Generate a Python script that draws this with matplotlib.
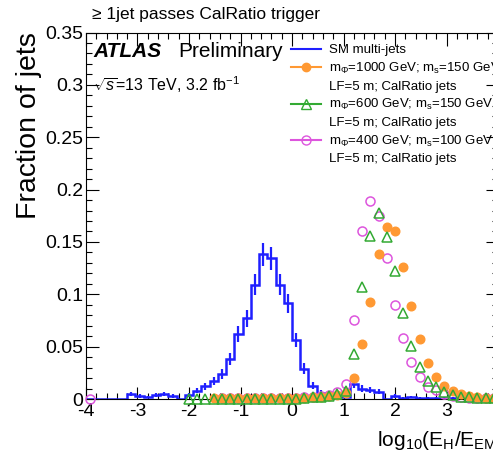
import numpy as np
import matplotlib
matplotlib.use("Agg")
import matplotlib.pyplot as plt
from matplotlib.ticker import MultipleLocator, FuncFormatter
from matplotlib.lines import Line2D

plt.rcParams['font.family'] = ['Liberation Sans', 'DejaVu Sans']
plt.rcParams['mathtext.fontset'] = 'custom'
plt.rcParams['mathtext.rm'] = 'Liberation Sans'
plt.rcParams['mathtext.it'] = 'Liberation Sans:italic'
plt.rcParams['mathtext.bf'] = 'Liberation Sans:bold'

# ---- data: 50 bins from -4 to 4 (width 0.16) ----
bin_lo = -4.0
bin_hi = 4.0
n_bins = 50

sm_multijets = [0, 0, 0, 0, 0, 0.005, 0.003, 0.002, 0.004, 0.005,
                0.003, 0.0, 0.004, 0.008, 0.012, 0.017, 0.024, 0.038, 0.062, 0.077,
                0.109, 0.138, 0.1345, 0.109, 0.0915, 0.0564, 0.029, 0.0127, 0.006, 0.001,
                0.002, 0.002, 0.014, 0.010, 0.009, 0.007, 0.0, 0.003, 0.001, 0.002,
                0.001, 0.001, 0.001, 0.001, 0.001, 0, 0, 0, 0, 0]
sm_errors = [0, 0, 0, 0, 0, 0.0021, 0.0016, 0.0013, 0.0019, 0.0021,
             0.0016, 0.0, 0.0019, 0.0027, 0.0033, 0.0039, 0.0046, 0.0058, 0.0075, 0.0083,
             0.0099, 0.0111, 0.0110, 0.0099, 0.0091, 0.0071, 0.0051, 0.0034, 0.0023, 0.0010,
             0.0013, 0.0013, 0.0035, 0.0030, 0.0028, 0.0025, 0.0, 0.0016, 0.0010, 0.0013,
             0.0010, 0.0010, 0.0010, 0.0010, 0.0010, 0, 0, 0, 0, 0]

nan = np.nan
sig_1000 = [nan] * 15 + [0.0005] * 11 + [0.001, 0.0015, 0.002, 0.003, 0.004, 0.006,
            0.0205, 0.0526, 0.0925, 0.1384, 0.164, 0.160, 0.1256, 0.089, 0.057, 0.034,
            0.0213, 0.0124, 0.008, 0.0048, 0.003, 0.002, 0.001, 0.0005]
sig_600 = [nan] * 12 + [0.0003] * 14 + [0.001, 0.0015, 0.002, 0.003, 0.005, 0.008,
           0.0427, 0.107, 0.156, 0.178, 0.155, 0.1224, 0.082, 0.051, 0.031, 0.017,
           0.0118, 0.007, 0.004, 0.002, 0.0015, 0.001, 0.0005, 0.0005]
sig_400 = [0.0] + [nan] * 15 + [0.0005] * 10 + [0.0015, 0.002, 0.003, 0.004, 0.007, 0.014,
           0.0755, 0.160, 0.1887, 0.1743, 0.1345, 0.090, 0.058, 0.0357, 0.0207, 0.0118,
           0.0086, 0.0048, 0.003, 0.002, 0.001, 0.001, 0.0005, 0.0005]

labels = ["SM multi-jets",
          r"m$_{\Phi}$=1000 GeV; m$_{\mathrm{s}}$=150 GeV",
          r"m$_{\Phi}$=600 GeV; m$_{\mathrm{s}}$=150 GeV;",
          r"m$_{\Phi}$=400 GeV; m$_{\mathrm{s}}$=100 GeV;"]
cont_label = "LF=5 m; CalRatio jets"

c_blue = '#1f1fff'
c_orange = '#ff9933'
c_green = '#33aa33'
c_magenta = '#dd55dd'

edges = np.linspace(bin_lo, bin_hi, n_bins + 1)
centers = 0.5 * (edges[:-1] + edges[1:])

fig = plt.figure(figsize=(4.93, 4.59), dpi=100)
ax = fig.add_axes([86 / 493, 1 - 399 / 459, 412 / 493, 366.5 / 459])

sm = np.array(sm_multijets)
err = np.array(sm_errors)
ax.stairs(sm, edges, color=c_blue, lw=1.8, baseline=None, zorder=2)
m = sm > 0
ax.errorbar(centers[m], sm[m], yerr=err[m], fmt='none', ecolor=c_blue,
            elinewidth=1.6, capsize=0, zorder=2)

ax.plot(centers, sig_400, ls='none', marker='o', ms=6.5, mfc='none',
        mec=c_magenta, mew=1.1, clip_on=False, zorder=3)
ax.plot(centers, sig_1000, ls='none', marker='o', ms=6.2, mfc=c_orange,
        mec=c_orange, clip_on=False, zorder=4)
ax.plot(centers, sig_600, ls='none', marker='^', ms=6.5, mfc='none',
        mec=c_green, mew=1.1, clip_on=False, zorder=5)

ax.set_xlim(bin_lo, bin_hi)
ax.set_ylim(0, 0.35)
ax.xaxis.set_major_locator(MultipleLocator(1))
ax.xaxis.set_minor_locator(MultipleLocator(0.2))
ax.yaxis.set_major_locator(MultipleLocator(0.05))
ax.yaxis.set_minor_locator(MultipleLocator(0.01))
ax.yaxis.set_major_formatter(FuncFormatter(lambda v, p: '%g' % round(v, 3)))
ax.xaxis.set_major_formatter(FuncFormatter(lambda v, p: '' if v > 3.5 else '%g' % v))
ax.tick_params(which='both', direction='in', top=True, right=True, labelsize=14)
ax.tick_params(which='major', length=9, width=0.8)
ax.tick_params(which='minor', length=4.5, width=0.8)
ax.tick_params(axis='x', pad=3)
ax.tick_params(axis='y', pad=2)
for s in ax.spines.values():
    s.set_linewidth(0.8)

ax.set_ylabel("Fraction of jets", fontsize=20.5, loc='top', labelpad=2)
ax.set_xlabel(r"log$_{10}$(E$_{\mathrm{H}}$/E$_{\mathrm{EM}}$)", fontsize=15,
              loc='right')
ax.xaxis.set_label_coords(1.015, -0.082)

fig.text(92 / 493, 1 - 15 / 459, "\u2265 1jet passes CalRatio trigger",
         fontsize=12.5, va='center', ha='left')
ax.text(0.017, 0.947, "ATLAS", transform=ax.transAxes, fontsize=15,
        fontweight='bold', fontstyle='italic', va='center', ha='left')
ax.text(0.225, 0.947, "Preliminary", transform=ax.transAxes, fontsize=15,
        va='center', ha='left')
ax.text(0.017, 0.857, r"$\sqrt{s}$=13 TeV, 3.2 fb$^{-1}$", transform=ax.transAxes,
        fontsize=11.5, va='center', ha='left')

blank = Line2D([], [], ls='none', marker='none')
handles = [Line2D([], [], color=c_blue, lw=1.5),
           Line2D([], [], color=c_orange, lw=1.5, marker='o', ms=6, mfc=c_orange, mec=c_orange),
           blank,
           Line2D([], [], color=c_green, lw=1.5, marker='^', ms=6.5, mfc='none', mec=c_green),
           blank,
           Line2D([], [], color=c_magenta, lw=1.5, marker='o', ms=6.5, mfc='none', mec=c_magenta),
           blank]
leg_labels = [labels[0], labels[1], cont_label, labels[2], cont_label, labels[3], cont_label]
ax.legend(handles, leg_labels, loc='upper left', bbox_to_anchor=(0.497, 0.968),
          frameon=False, fontsize=9.5, handlelength=2.3, handletextpad=0.6,
          labelspacing=0.34, borderpad=0, borderaxespad=0)

fig.savefig("out.png", dpi=100)
